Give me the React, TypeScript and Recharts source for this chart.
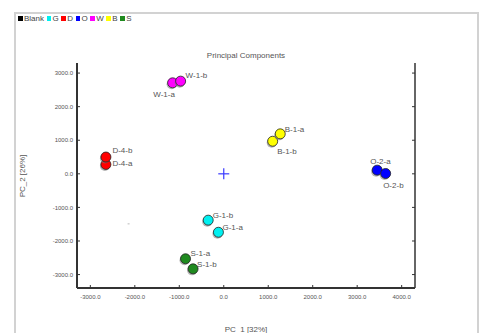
import React from "react";
import { ScatterChart, Scatter, XAxis, YAxis } from "recharts";

// ---- data ----------------------------------------------------------------
const GROUPS = ["Blank", "G", "D", "O", "W", "B", "S"];
const SAMPLE_NAMES = [
  "G-1-a", "G-1-b", "D-4-a", "D-4-b", "O-2-a", "O-2-b",
  "W-1-a", "W-1-b", "B-1-b", "B-1-a", "S-1-a", "S-1-b",
];
const SAMPLE_GROUP = ["G", "G", "D", "D", "O", "O", "W", "W", "B", "B", "S", "S"];
const PC1 = [-120, -350, -2650, -2650, 3450, 3640, -1150, -970, 1100, 1270, -860, -690];
const PC2 = [-1740, -1380, 280, 500, 110, 10, 2710, 2760, 970, 1190, -2530, -2830];
const BLANK_PC1 = [-2140];
const BLANK_PC2 = [-1490];
const ORIGIN_PC1 = [0];
const ORIGIN_PC2 = [0];
const X_TICKS = [-3000, -2000, -1000, 0, 1000, 2000, 3000, 4000];
const Y_TICKS = [-3000, -2000, -1000, 0, 1000, 2000, 3000];
const X_DOMAIN = [-3300, 4300];
const Y_DOMAIN = [-3400, 3300];

// ---- styling -------------------------------------------------------------
const COLORS: Record<string, string> = {
  Blank: "#000000",
  G: "#00f0f0",
  D: "#ff0000",
  O: "#0000ff",
  W: "#ff00ff",
  B: "#ffff00",
  S: "#1f8a1f",
};
// label offset from the marker centre: [dx, dy(baseline), anchor]
const LABEL_OFFSET: Record<string, [number, number, string]> = {
  "W-1-a": [-8.5, 14, "middle"],
  "W-1-b": [5, -3.5, "start"],
  "D-4-b": [6.5, -4, "start"],
  "D-4-a": [6.5, 1.5, "start"],
  "B-1-a": [4.5, -2, "start"],
  "B-1-b": [4.5, 12.5, "start"],
  "O-2-a": [-7, -6.5, "start"],
  "O-2-b": [-2.5, 14.5, "start"],
  "G-1-b": [4.5, -2.5, "start"],
  "G-1-a": [4, -2.5, "start"],
  "S-1-a": [5, -3, "start"],
  "S-1-b": [4, -2, "start"],
};
const FONT = "'Liberation Sans', Arial, sans-serif";
const TEXT = "#555";
const AXIS = "#333";

const fmtTick = (v: number) => v.toFixed(1);

const groupRows = (g: string) =>
  SAMPLE_NAMES.map((name, i) => ({ name, group: SAMPLE_GROUP[i], x: PC1[i], y: PC2[i] })).filter(
    (r) => r.group === g,
  );
const blankRows = BLANK_PC1.map((x, i) => ({ x, y: BLANK_PC2[i] }));
const originRows = ORIGIN_PC1.map((x, i) => ({ x, y: ORIGIN_PC2[i] }));

// ---- marks ---------------------------------------------------------------
function makeMarker(color: string) {
  return (props: any) => {
    const { cx, cy, payload } = props;
    const off = LABEL_OFFSET[payload.name] ?? [5, -3, "start"];
    return (
      <g>
        <circle cx={cx - 1} cy={cy + 1.5} r={5} fill="#777" opacity={0.55} />
        <circle cx={cx} cy={cy} r={5} fill={color} stroke="#222" strokeWidth={0.8} />
        <text
          x={cx + off[0]}
          y={cy + off[1]}
          textAnchor={off[2] as any}
          fontSize={8}
          fontFamily={FONT}
          fill={TEXT}
        >
          {payload.name}
        </text>
      </g>
    );
  };
}

const BlankMark = (props: any) => (
  <rect x={props.cx - 1} y={props.cy - 0.5} width={2} height={1} fill="#bbb" />
);

const OriginCross = (props: any) => {
  const { cx, cy } = props;
  return (
    <g stroke="#3a3aff" strokeWidth={1.2}>
      <line x1={cx - 5.5} x2={cx + 5.5} y1={cy} y2={cy} />
      <line x1={cx} x2={cx} y1={cy - 5.5} y2={cy + 5.5} />
    </g>
  );
};

// ---- ticks (all pointing inward) -----------------------------------------
const BottomTick = (p: any) => (
  <g>
    <line x1={p.x} x2={p.x} y1={p.y} y2={p.y - 3} stroke={AXIS} />
    <text x={p.x} y={p.y + 11} textAnchor="middle" fontSize={6} fontFamily={FONT} fill={TEXT}>
      {fmtTick(p.payload.value)}
    </text>
  </g>
);
const LeftTick = (p: any) => (
  <g>
    <line x1={p.x} x2={p.x + 3} y1={p.y} y2={p.y} stroke={AXIS} />
    <text x={p.x - 4} y={p.y + 2.2} textAnchor="end" fontSize={6} fontFamily={FONT} fill={TEXT}>
      {fmtTick(p.payload.value)}
    </text>
  </g>
);
const TopTick = (p: any) => <line x1={p.x} x2={p.x} y1={p.y} y2={p.y + 3} stroke={AXIS} />;
const RightTick = (p: any) => <line x1={p.x} x2={p.x - 3} y1={p.y} y2={p.y} stroke={AXIS} />;

function Legend() {
  return (
    <div
      style={{
        position: "absolute",
        left: 18,
        top: 14,
        display: "flex",
        alignItems: "center",
        fontFamily: FONT,
        fontSize: 8,
        color: "#444",
        lineHeight: "9px",
      }}
    >
      {GROUPS.map((g) => (
        <span key={g} style={{ display: "flex", alignItems: "center", marginRight: 2.5 }}>
          <span
            style={{ width: 4.5, height: 4.5, background: COLORS[g], marginRight: 1.5, display: "inline-block" }}
          />
          {g}
        </span>
      ))}
    </div>
  );
}

// ---- main ----------------------------------------------------------------
export default function App() {
  return (
    <div
      style={{
        position: "absolute",
        left: 0,
        top: 0,
        width: 486,
        height: 333,
        overflow: "hidden",
        background: "#fff",
      }}
    >
      <div
        style={{
          position: "absolute",
          left: 14,
          top: 12,
          width: 461,
          height: 340,
          border: "2px solid #d2d2d2",
        }}
      />
      <Legend />
      <svg
        width={486}
        height={333}
        style={{ position: "absolute", left: 0, top: 0, pointerEvents: "none" }}
      >
        <text x={246} y={57.5} textAnchor="middle" fontSize={8} fontFamily={FONT} fill={TEXT}>
          Principal Components
        </text>
        <text x={246} y={331.5} textAnchor="middle" fontSize={8} fontFamily={FONT} fill={TEXT}>
          PC_1 [32%]
        </text>
        <text
          x={25}
          y={176}
          textAnchor="middle"
          fontSize={8}
          fontFamily={FONT}
          fill={TEXT}
          transform="rotate(-90 25 176)"
        >
          PC_2 [26%]
        </text>
      </svg>
      <div style={{ position: "absolute", left: 0, top: 0 }}>
        <ScatterChart width={486} height={333} margin={{ top: 63, right: 0, bottom: 0, left: 0 }}>
          <XAxis
            xAxisId="b"
            type="number"
            dataKey="x"
            orientation="bottom"
            domain={X_DOMAIN}
            ticks={X_TICKS}
            allowDataOverflow
            height={45}
            tickSize={0}
            tickMargin={0}
            tickLine={false}
            tick={<BottomTick />}
            axisLine={{ stroke: AXIS, strokeWidth: 2 }}
          />
          <XAxis
            xAxisId="t"
            type="number"
            dataKey="x"
            orientation="top"
            domain={X_DOMAIN}
            ticks={X_TICKS}
            allowDataOverflow
            height={0}
            tickSize={0}
            tickMargin={0}
            tickLine={false}
            tick={<TopTick />}
            axisLine={{ stroke: AXIS, strokeWidth: 1.5 }}
          />
          <YAxis
            yAxisId="l"
            type="number"
            dataKey="y"
            orientation="left"
            domain={Y_DOMAIN}
            ticks={Y_TICKS}
            allowDataOverflow
            width={77}
            tickSize={0}
            tickMargin={0}
            tickLine={false}
            tick={<LeftTick />}
            axisLine={{ stroke: AXIS, strokeWidth: 2 }}
          />
          <YAxis
            yAxisId="r"
            type="number"
            dataKey="y"
            orientation="right"
            domain={Y_DOMAIN}
            ticks={Y_TICKS}
            allowDataOverflow
            width={71}
            tickSize={0}
            tickMargin={0}
            tickLine={false}
            tick={<RightTick />}
            axisLine={{ stroke: AXIS, strokeWidth: 1.5 }}
          />
          {/* invisible series so the top/right axes get a domain */}
          <Scatter
            xAxisId="t"
            yAxisId="r"
            data={originRows}
            shape={() => <g />}
            isAnimationActive={false}
          />
          <Scatter
            xAxisId="b"
            yAxisId="l"
            data={blankRows}
            shape={BlankMark}
            isAnimationActive={false}
          />
          <Scatter
            xAxisId="b"
            yAxisId="l"
            data={originRows}
            shape={OriginCross}
            isAnimationActive={false}
          />
          {GROUPS.filter((g) => g !== "Blank").map((g) => (
            <Scatter
              key={g}
              xAxisId="b"
              yAxisId="l"
              data={groupRows(g)}
              shape={makeMarker(COLORS[g])}
              isAnimationActive={false}
            />
          ))}
        </ScatterChart>
      </div>
    </div>
  );
}
